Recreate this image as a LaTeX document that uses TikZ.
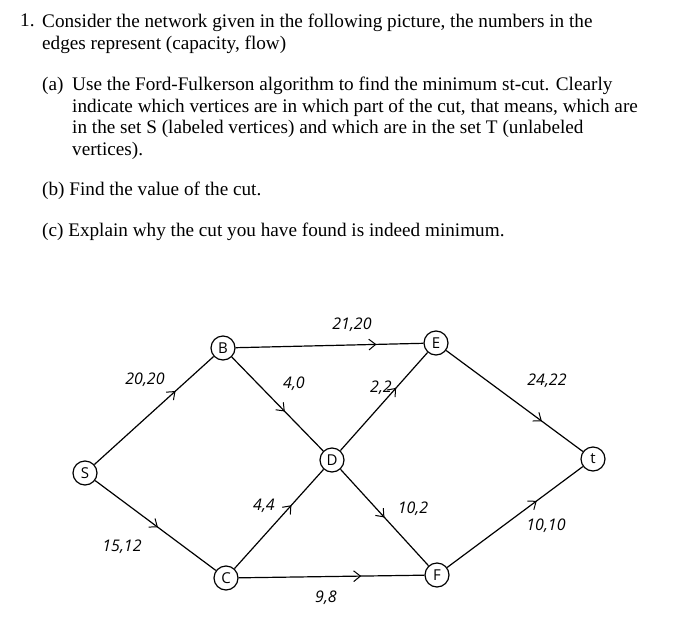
\documentclass[tikz,border=0pt]{standalone}
\usepackage{fontspec}
\setmainfont{Liberation Serif}
\newfontfamily\handfont{Open Sans}
\usetikzlibrary{arrows.meta, decorations.markings}

\begin{document}
\begin{tikzpicture}[
    x=1bp, y=-1bp,
    vertex/.style={draw, circle, line width=1.2pt, minimum size=24bp, inner sep=0pt, font=\handfont\fontsize{15bp}{15bp}\selectfont},
    edge/.style={line width=1.2pt, black},
    midarrow/.style={postaction={decorate}, decoration={markings, mark=at position #1 with {\arrow{Straight Barb[length=2.4mm, width=3.8mm, line width=1pt]}}}},
    weight/.style={font=\handfont\itshape\fontsize{16bp}{16bp}\selectfont, inner sep=1pt},
    question/.style={anchor=north west, inner sep=0pt, align=left, font=\fontsize{19.2bp}{21.5bp}\selectfont}
]
\useasboundingbox (0,0) rectangle (700,633);

% 1. Question text
\node (n1) [question] at (20,14) {1.};
\node (q1) [question] at (42,14) {Consider the network given in the following picture, the numbers in the\\edges represent (capacity, flow)};
\node (na) [question] at (42,77) {(a)};
\node (qa) [question] at (72,77) {Use the Ford-Fulkerson algorithm to find the minimum st-cut. Clearly\\indicate which vertices are in which part of the cut, that means, which are\\in the set S (labeled vertices) and which are in the set T (unlabeled\\vertices).};
\node (qb) [question] at (42,182) {(b) Find the value of the cut.};
\node (qc) [question] at (42,223) {(c) Explain why the cut you have found is indeed minimum.};

% 2. Vertices
\node (S) [vertex] at (85,473) {S};
\node (B) [vertex] at (223,348) {B};
\node (C) [vertex] at (226,578) {C};
\node (D) [vertex] at (332,460) {D};
\node (E) [vertex] at (436,343) {E};
\node (F) [vertex] at (437,575) {F};
\node (t) [vertex] at (593,459) {t};

% 3. Edges
\draw [edge, midarrow=0.68] (S) -- (B);
\draw [edge, midarrow=0.52] (S) -- (C);
\draw [edge, midarrow=0.75] (B) -- (E);
\draw [edge, midarrow=0.58] (B) -- (D);
\draw [edge, midarrow=0.64] (C) -- (D);
\draw [edge, midarrow=0.66] (C) -- (F);
\draw [edge, midarrow=0.64] (D) -- (E);
\draw [edge, midarrow=0.50] (D) -- (F);
\draw [edge, midarrow=0.70] (E) -- (t);
\draw [edge, midarrow=0.66] (F) -- (t);

% 4. Capacity, flow
\node (w-sb) [weight] at (145,380) {20,20};
\node (w-sc) [weight] at (122,547) {15,12};
\node (w-be) [weight] at (352,325) {21,20};
\node (w-bd) [weight] at (294,384) {4,0};
\node (w-cd) [weight] at (264,506) {4,4};
\node (w-cf) [weight] at (326,598) {9,8};
\node (w-de) [weight] at (381,388) {2,2};
\node (w-df) [weight] at (413,509) {10,2};
\node (w-et) [weight] at (547,381) {24,22};
\node (w-ft) [weight] at (546,526) {10,10};

\end{tikzpicture}
\end{document}
